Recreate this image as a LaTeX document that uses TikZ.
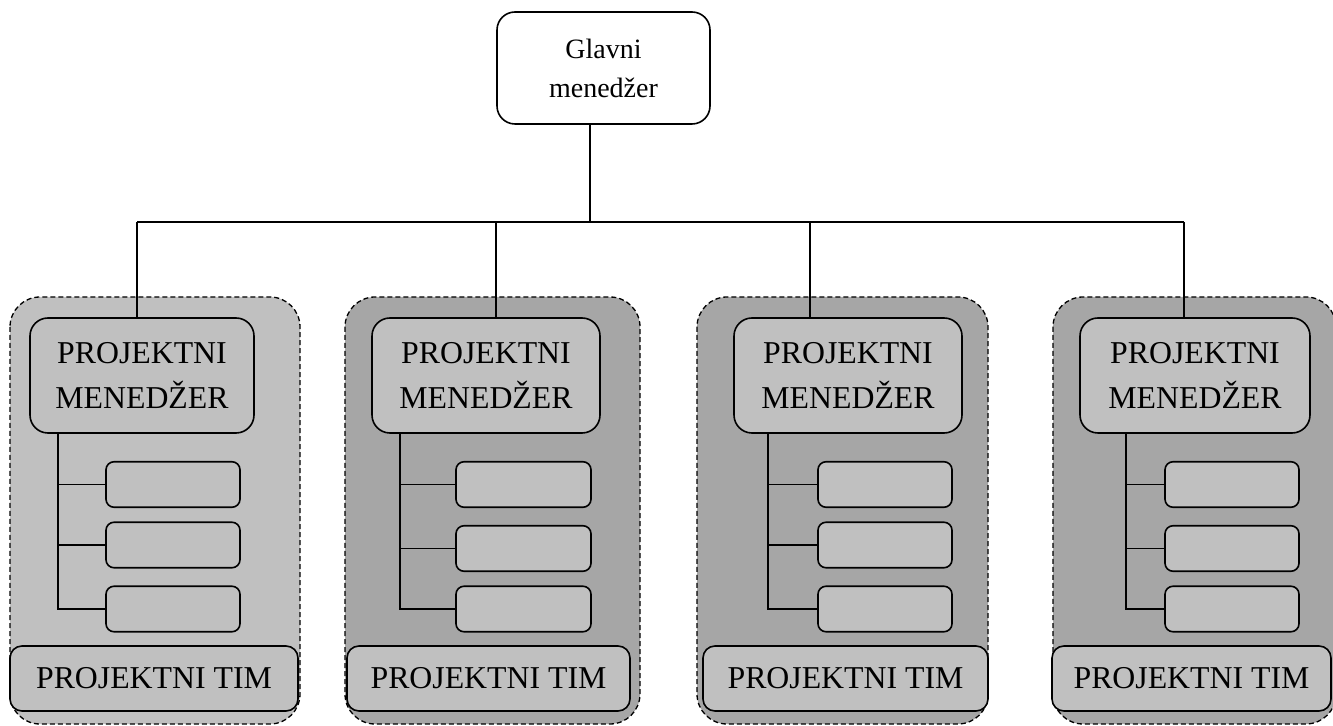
\documentclass[tikz,border=0pt]{standalone}
\usepackage{fontspec}
\setmainfont{Liberation Serif}
\definecolor{boxgray}{HTML}{C0C0C0}
\definecolor{teamgray}{HTML}{A6A6A6}
\tikzset{
  grp/.style={draw, dash pattern=on 2.5pt off 1.5pt, line width=0.65pt, rounded corners=15pt},
  topbox/.style={draw, line width=0.8pt, rounded corners=9pt, fill=white, align=center,
    inner sep=0pt, font=\fontsize{14}{19.5}\selectfont},
  mgr/.style={draw, line width=0.8pt, rounded corners=9pt, fill=boxgray, align=center,
    inner sep=0pt, minimum height=57.5pt, font=\fontsize{15.9}{22.5}\selectfont},
  member/.style={draw, line width=0.8pt, rounded corners=4pt, fill=boxgray,
    inner sep=0pt, minimum height=22.75pt},
  team/.style={draw, line width=0.8pt, rounded corners=6pt, fill=boxgray,
    inner sep=0pt, minimum height=32.5pt, font=\fontsize{15.9}{19}\selectfont},
  link/.style={draw, line width=0.75pt}
}
\begin{document}
\begin{tikzpicture}[x=0.5pt, y=-0.5pt]
\useasboundingbox (0,0) rectangle (1333,726);

% dashed team areas
\filldraw[grp, fill=boxgray]  (10,297)   rectangle (300,724);
\filldraw[grp, fill=teamgray] (345,297)  rectangle (640,724);
\filldraw[grp, fill=teamgray] (697,297)  rectangle (988,724);
\filldraw[grp, fill=teamgray] (1053,297) rectangle (1336,724);

% general manager
\node[topbox, minimum width=106.5pt, minimum height=56pt] (top) at (603.5,68) {Glavni\\menedžer};

% project managers
\node[mgr, minimum width=112pt] (m1) at (142,375.5)  {PROJEKTNI\\MENEDŽER};
\node[mgr, minimum width=114pt] (m2) at (486,375.5)  {PROJEKTNI\\MENEDŽER};
\node[mgr, minimum width=114pt] (m3) at (848,375.5)  {PROJEKTNI\\MENEDŽER};
\node[mgr, minimum width=115pt] (m4) at (1195,375.5) {PROJEKTNI\\MENEDŽER};

% team members
\node[member, minimum width=67pt] (a1) at (173,484.5) {};
\node[member, minimum width=67pt] (a2) at (173,545)   {};
\node[member, minimum width=67pt] (a3) at (173,609)   {};
\node[member, minimum width=67.5pt] (b1) at (523.5,484.5) {};
\node[member, minimum width=67.5pt] (b2) at (523.5,548.5) {};
\node[member, minimum width=67.5pt] (b3) at (523.5,609)   {};
\node[member, minimum width=67pt] (c1) at (885,484.5) {};
\node[member, minimum width=67pt] (c2) at (885,545)   {};
\node[member, minimum width=67pt] (c3) at (885,609)   {};
\node[member, minimum width=67pt] (e1) at (1232,484.5) {};
\node[member, minimum width=67pt] (e2) at (1232,548.5) {};
\node[member, minimum width=67pt] (e3) at (1232,609)   {};

% team labels
\node[team, minimum width=144pt]   (t1) at (154,678.5)    {PROJEKTNI TIM};
\node[team, minimum width=141.5pt] (t2) at (488.5,678.5)  {PROJEKTNI TIM};
\node[team, minimum width=142.5pt] (t3) at (845.5,678.5)  {PROJEKTNI TIM};
\node[team, minimum width=139.5pt] (t4) at (1191.5,678.5) {PROJEKTNI TIM};

% top-level bus
\coordinate (bus) at (590,222);
\coordinate (d1) at (137,222);
\coordinate (d2) at (496,222);
\coordinate (d3) at (810,222);
\coordinate (d4) at (1184,222);
\draw[link] (top.south -| bus) -- (bus);
\draw[link] (d1) -- (d4);
\draw[link] (d1) -- (d1 |- m1.north);
\draw[link] (d2) -- (d2 |- m2.north);
\draw[link] (d3) -- (d3 |- m3.north);
\draw[link] (d4) -- (d4 |- m4.north);

% spines from project managers to members
\coordinate (s1) at (58,0);
\coordinate (s2) at (400,0);
\coordinate (s3) at (768,0);
\coordinate (s4) at (1126,0);
\draw[link] (s1 |- m1.south) -- (s1 |- a3.west) -- (a3.west);
\draw[link] (s1 |- a1.west) -- (a1.west);
\draw[link] (s1 |- a2.west) -- (a2.west);
\draw[link] (s2 |- m2.south) -- (s2 |- b3.west) -- (b3.west);
\draw[link] (s2 |- b1.west) -- (b1.west);
\draw[link] (s2 |- b2.west) -- (b2.west);
\draw[link] (s3 |- m3.south) -- (s3 |- c3.west) -- (c3.west);
\draw[link] (s3 |- c1.west) -- (c1.west);
\draw[link] (s3 |- c2.west) -- (c2.west);
\draw[link] (s4 |- m4.south) -- (s4 |- e3.west) -- (e3.west);
\draw[link] (s4 |- e1.west) -- (e1.west);
\draw[link] (s4 |- e2.west) -- (e2.west);
\end{tikzpicture}
\end{document}
